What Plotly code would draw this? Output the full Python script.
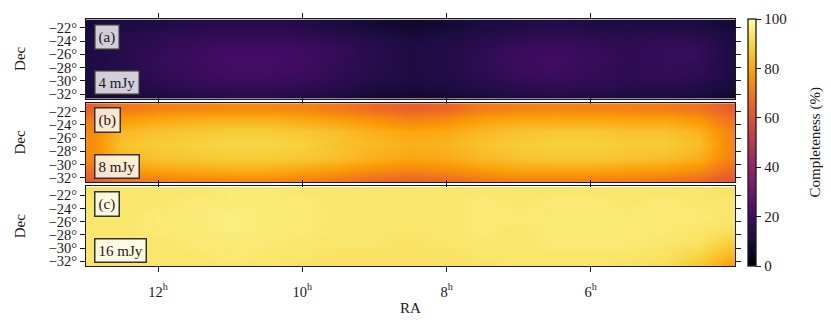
import plotly.graph_objects as go
from plotly.subplots import make_subplots

# RA bin centres (hours) and Dec bin centres (deg, top to bottom)
ra_hours = [12.9, 12.5, 12.0, 11.5, 11.0, 10.5, 10.0, 9.5, 9.0, 8.5,
            8.0, 7.5, 7.0, 6.5, 6.0, 5.5, 5.0, 4.5, 4.1]
dec_deg = [-21.5, -23, -25, -27, -29, -31, -32.5]

panel_tags = ['(a)', '(b)', '(c)']
flux_labels = ['4 mJy', '8 mJy', '16 mJy']

# completeness (%), rows follow dec_deg
comp_4mjy = [
    [10, 11, 12, 13, 14, 14, 13, 11, 9, 7, 9, 11, 12, 13, 12, 12, 12, 11, 9],
    [11, 13, 15, 16, 17, 17, 16, 14, 12, 10, 11, 13, 15, 16, 15, 14, 15, 14, 11],
    [12, 14, 16, 18, 20, 20, 19, 17, 14, 12, 13, 15, 18, 19, 17, 16, 17, 17, 12],
    [12, 14, 17, 19, 21, 21, 20, 17, 14, 12, 13, 16, 19, 20, 18, 16, 17, 17, 12],
    [12, 14, 16, 18, 20, 20, 19, 16, 14, 12, 13, 15, 18, 19, 17, 16, 17, 16, 12],
    [11, 12, 14, 16, 17, 17, 16, 14, 11, 10, 11, 13, 15, 16, 15, 14, 14, 13, 10],
    [9, 10, 11, 12, 13, 13, 12, 11, 9, 8, 9, 10, 12, 12, 12, 11, 11, 10, 8],
]
comp_8mjy = [
    [64, 70, 72, 73, 74, 74, 73, 70, 67, 64, 66, 71, 72, 73, 72, 72, 71, 69, 64],
    [70, 77, 80, 81, 82, 82, 80, 78, 75, 72, 74, 78, 80, 80, 80, 79, 79, 76, 69],
    [74, 84, 86, 87, 88, 88, 87, 85, 82, 80, 81, 84, 86, 87, 87, 86, 86, 83, 73],
    [75, 86, 88, 89, 90, 90, 89, 86, 84, 82, 83, 86, 88, 89, 89, 88, 88, 85, 74],
    [74, 84, 86, 87, 88, 88, 87, 85, 82, 80, 81, 84, 86, 87, 87, 86, 85, 82, 73],
    [68, 76, 79, 80, 81, 81, 79, 77, 74, 72, 74, 77, 79, 79, 79, 78, 77, 74, 67],
    [62, 68, 71, 72, 73, 73, 71, 69, 66, 64, 66, 69, 71, 71, 71, 70, 69, 66, 61],
]
comp_16mjy = [
    [93, 94, 94, 94, 95, 95, 94, 94, 94, 94, 94, 94, 94, 94, 94, 94, 94, 94, 93],
    [94, 94, 94, 95, 95, 95, 95, 94, 94, 94, 94, 95, 94, 95, 95, 94, 95, 94, 94],
    [94, 94, 95, 95, 96, 95, 95, 94, 94, 94, 94, 95, 95, 95, 95, 95, 95, 95, 94],
    [94, 94, 95, 95, 96, 95, 95, 94, 94, 94, 94, 95, 94, 95, 95, 95, 95, 94, 93],
    [94, 94, 94, 95, 95, 95, 94, 94, 94, 93, 94, 94, 94, 95, 95, 95, 94, 93, 89],
    [94, 94, 94, 94, 95, 94, 94, 93, 93, 93, 93, 94, 94, 94, 94, 94, 93, 90, 84],
    [93, 94, 94, 94, 94, 94, 93, 93, 93, 93, 93, 93, 94, 94, 94, 93, 92, 87, 79],
]

ra_ticks = [12, 10, 8, 6]
dec_ticks = [-22, -24, -26, -28, -30, -32]
cbar_ticks = [0, 20, 40, 60, 80, 100]

FONT = 'Liberation Serif'
INK = '#1a1a1a'

# the page body adds an 8px offset, so the figure is 8px smaller
W, H = 823, 323
ML, MR, MT, MB = 78, 96, 11, 65
plot_w = W - ML - MR

fig = make_subplots(rows=3, cols=1, shared_xaxes=True,
                    vertical_spacing=4 / 247)

for ii, z in enumerate([comp_4mjy, comp_8mjy, comp_16mjy]):
    fig.add_trace(go.Heatmap(x=ra_hours,
                             y=dec_deg[::-1],
                             z=z[::-1],
                             coloraxis='coloraxis',
                             zsmooth='best',
                             hoverinfo='skip'),
                  row=ii + 1, col=1)

    sfx = '' if ii == 0 else str(ii + 1)
    box = dict(xref=f'x{sfx} domain', yref=f'y{sfx} domain',
               showarrow=False, xanchor='left',
               font=dict(family=FONT, size=15, color=INK),
               bgcolor='rgba(255,255,255,0.8)',
               bordercolor='#333333', borderwidth=1.5, borderpad=3)
    fig.add_annotation(text=panel_tags[ii], x=0.013, y=0.94,
                       yanchor='top', **box)
    fig.add_annotation(text=flux_labels[ii], x=0.013, y=0.04,
                       yanchor='bottom', **box)

# colour bar title as a rotated label
fig.add_annotation(text='Completeness (%)', textangle=-90,
                   xref='paper', yref='paper', x=(815 - 86) / plot_w, y=0.5,
                   showarrow=False, xanchor='center', yanchor='middle',
                   font=dict(family=FONT, size=15, color=INK))

# Axes
axis_common = dict(showline=True, linecolor=INK, linewidth=1.3,
                   mirror='ticks', ticks='outside', ticklen=5,
                   tickwidth=1.3, tickcolor=INK, showgrid=False,
                   zeroline=False,
                   tickfont=dict(family=FONT, size=14.5, color=INK))

for r in range(1, 4):
    fig.update_xaxes(axis_common, range=[13, 4],
                     tickvals=ra_ticks,
                     ticktext=[f'{h}<sup>h</sup>' for h in ra_ticks],
                     showticklabels=(r == 3), ticklabelstandoff=7,
                     row=r, col=1)
    fig.update_yaxes(axis_common, range=[-32.7, -20.65],
                     tickvals=dec_ticks,
                     ticktext=[f'\u2212{abs(d)}\u00b0' for d in dec_ticks],
                     title=dict(text='Dec', standoff=19,
                                font=dict(family=FONT, size=15, color=INK)),
                     row=r, col=1)

fig.update_xaxes(title=dict(text='RA', standoff=3,
                            font=dict(family=FONT, size=15, color=INK)),
                 row=3, col=1)

fig.update_layout(
    width=W, height=H,
    margin=dict(l=ML, r=MR, t=MT, b=MB, autoexpand=False),
    paper_bgcolor='white', plot_bgcolor='white',
    showlegend=False,
    coloraxis=dict(
        colorscale='Inferno', cmin=0, cmax=100,
        colorbar=dict(x=(748 - 86) / plot_w, xanchor='left', xref='paper',
                      xpad=0, ypad=0,
                      y=0.5, yanchor='middle', len=1, lenmode='fraction',
                      thickness=8, outlinewidth=1.3, outlinecolor=INK,
                      tickvals=cbar_ticks, ticks='outside', ticklen=5,
                      tickwidth=1.3, tickcolor=INK,
                      tickfont=dict(family=FONT, size=15, color=INK))),
)

fig.write_html("out.html")
